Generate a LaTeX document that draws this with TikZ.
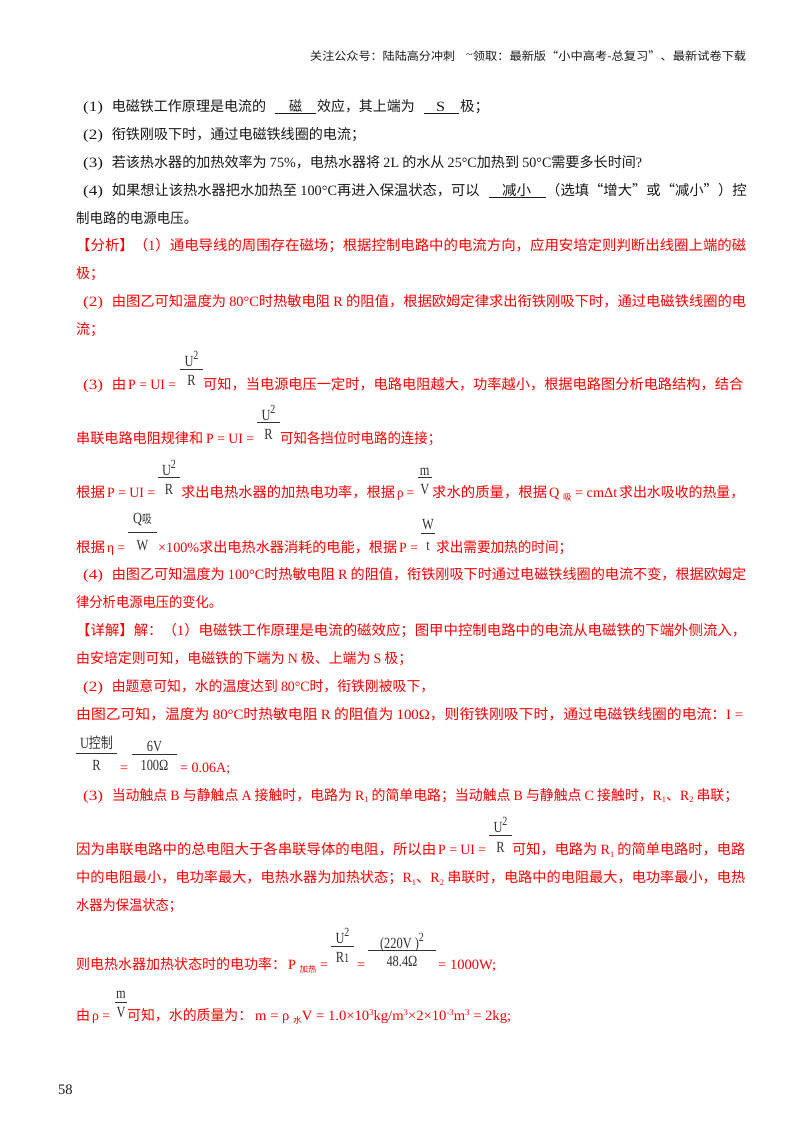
\documentclass[tikz,border=0pt]{standalone}
\usepackage{fontspec}
\usepackage{graphicx}
\setmainfont{Noto Sans CJK SC}
\newfontfamily\serif{Liberation Serif}
\newcommand\tn[1]{{\serif #1}}
\newcommand\sps[1]{\raisebox{0.38em}{\fontsize{8.5}{9}\selectfont\serif #1}}
\newcommand\fsp[1]{\raisebox{0.42em}{\fontsize{12.5}{14}\selectfont\serif #1}}
\newcommand\sbs[1]{\raisebox{-0.2em}{\fontsize{8.5}{9}\selectfont #1}}
\newcommand\fit[4]{\node[txt] at (#1,#3) {\resizebox{\dimexpr #2pt-#1pt\relax}{\height}{#4}};}
\newcommand\lbl[2]{\node[txt] at (83,#2) {\resizebox{20pt}{\height}{\tn{(#1)}}};}
\newcommand\frc[7]{% x1 x2 ybar ynum yden num den
  \draw[barln] (#1,#3) -- (#2,#3);
  \node[fractxt] at ({(#1+#2)/2},#4) {\scalebox{.8}[1]{#6}};
  \node[fractxt] at ({(#1+#2)/2},#5) {\scalebox{.8}[1]{#7}};}
\definecolor{pagered}{RGB}{255,0,0}
\definecolor{ink}{RGB}{25,25,25}
\definecolor{fracink}{RGB}{50,50,50}
\tikzset{
  txt/.style={anchor=base west,inner sep=0pt,font=\fontsize{14.2}{17}\selectfont},
  fractxt/.style={anchor=base,inner sep=0pt,text=fracink,font=\fontsize{15.5}{17}\serif},
  barln/.style={line width=0.8pt,color=fracink},
  ul/.style={line width=0.7pt}
}
\begin{document}
\begin{tikzpicture}[x=1pt,y=-1pt]
\fill[white] (0,0) rectangle (800,1132);
\useasboundingbox (0,0) rectangle (800,1132);
% header
\node[txt,text=ink,font=\fontsize{11.5}{14}\selectfont] at (310,60.5) {\resizebox{145pt}{\height}{关注公众号：陆陆高分冲刺}};
\node[txt,text=ink,font=\fontsize{11.5}{14}\selectfont] at (466,60.5) {\resizebox{280pt}{\height}{\raisebox{0.2em}{\tn{\symbol{"7E}}}领取：最新版“小中高考-总复习”、最新试卷下载}};
% questions
\begin{scope}[every node/.append style={text=ink},color=ink]
\lbl{1}{111}
\fit{111.6}{266}{111}{电磁铁工作原理是电流的}
\fit{289}{302}{111}{磁}
\draw[ul] (274.5,113) -- (316,113);
\fit{317}{414.5}{111}{效应，其上端为}
\fit{436}{445}{111}{\tn{S}}
\draw[ul] (423.5,113) -- (459,113);
\fit{460}{489}{111}{极；}
\lbl{2}{139.5}
\fit{111.6}{365}{139.5}{衔铁刚吸下时，通过电磁铁线圈的电流；}
\lbl{3}{167}
\fit{111.6}{642}{167}{若该热水器的加热效率为 \tn{75\%}，电热水器将 \tn{2L} 的水从 \tn{25°C}加热到 \tn{50°C}需要多长时间\tn{?}}
\lbl{4}{195.5}
\fit{111.6}{479.5}{195.5}{如果想让该热水器把水加热至 \tn{100°C}再进入保温状态，可以}
\fit{502}{531}{195.5}{减小}
\draw[ul] (488.5,197.5) -- (545.5,197.5);
\fit{546}{746.5}{195.5}{（选填“增大”或“减小”）控}
\fit{76}{197}{223.5}{制电路的电源电压。}
\end{scope}
% analysis
\begin{scope}[every node/.append style={text=pagered},color=pagered]
\fit{76}{746}{250.5}{【分析】（\tn{1}）通电导线的周围存在磁场；根据控制电路中的电流方向，应用安培定则判断出线圈上端的磁}
\fit{76}{104}{278.5}{极；}
\lbl{2}{306.5}
\fit{111.6}{746}{306.5}{由图乙可知温度为 \tn{80°C}时热敏电阻 \tn{R} 的阻值，根据欧姆定律求出衔铁刚吸下时，通过电磁铁线圈的电}
\fit{76}{104}{334.5}{流；}
% (3) U^2/R
\lbl{3}{389}
\fit{111.6}{126}{389}{由}
\fit{128}{176}{389}{\tn{P = UI =}}
\frc{180}{203}{369}{366}{385}{U\fsp{2}}{R}
\fit{203}{743}{389}{可知，当电源电压一定时，电路电阻越大，功率越小，根据电路图分析电路结构，结合}
\fit{76}{203}{443}{串联电路电阻规律和}
\fit{206}{254}{443}{\tn{P = UI =}}
\frc{257}{280}{422.7}{420}{439}{U\fsp{2}}{R}
\fit{280}{441}{443}{可知各挡位时电路的连接；}
\fit{76}{105}{497.5}{根据}
\fit{107}{155}{497.5}{\tn{P = UI =}}
\frc{158}{180}{477}{475}{494}{U\fsp{2}}{R}
\fit{181}{395}{497.5}{求出电热水器的加热电功率，根据}
\fit{397}{414}{497.5}{\tn{ρ =}}
\frc{418}{431.5}{477.7}{475}{494}{m}{V}
\fit{432}{547}{497.5}{求水的质量，根据}
\fit{549}{617}{497.5}{\tn{Q }\sbs{吸}\tn{ = cmΔt}}
\fit{619}{744}{497.5}{求出水吸收的热量，}
\fit{76}{105}{552}{根据}
\fit{107}{125}{552}{\tn{η =}}
\frc{128}{157}{532.7}{523}{550}{Q{\fontsize{12}{14}\selectfont\rmfamily 吸}}{W}
\fit{158}{199}{552}{\tn{×100\%}}
\fit{199}{397}{552}{求出电热水器消耗的电能，根据}
\fit{399}{418}{552}{\tn{P =}}
\frc{421}{435}{533}{529}{550}{W}{t}
\fit{436}{572}{552}{求出需要加热的时间；}
\lbl{4}{579.5}
\fit{111.6}{746}{579.5}{由图乙可知温度为 \tn{100°C}时热敏电阻 \tn{R} 的阻值，衔铁刚吸下时通过电磁铁线圈的电流不变，根据欧姆定}
\fit{76}{222}{607.5}{律分析电源电压的变化。}
\fit{76}{746}{635.5}{【详解】解：（\tn{1}）电磁铁工作原理是电流的磁效应；图甲中控制电路中的电流从电磁铁的下端外侧流入，}
\fit{76}{412}{663.5}{由安培定则可知，电磁铁的下端为 \tn{N} 极、上端为 \tn{S} 极；}
\lbl{2}{691}
\fit{111.6}{434}{691}{由题意可知，水的温度达到 \tn{80°C}时，衔铁刚被吸下，}
\fit{76}{743}{719}{由图乙可知，温度为 \tn{80°C}时热敏电阻 \tn{R} 的阻值为 \tn{100Ω}，则衔铁刚吸下时，通过电磁铁线圈的电流：\tn{I =}}
\frc{76}{117}{753}{748}{770}{U{\fontsize{15}{17}\selectfont\rmfamily 控制}}{R}
\fit{120}{128}{772}{\tn{=}}
\frc{132}{177}{754}{751}{770}{6V}{100Ω}
\fit{180}{230}{772}{\tn{= 0.06A;}}
\lbl{3}{800}
\fit{111.6}{738}{800}{当动触点 \tn{B} 与静触点 \tn{A} 接触时，电路为 \tn{R}\sbs{\tn{1}} 的简单电路；当动触点 \tn{B} 与静触点 \tn{C} 接触时，\tn{R}\sbs{\tn{1}}、\tn{R}\sbs{\tn{2}} 串联；}
\fit{76}{436}{854.5}{因为串联电路中的总电阻大于各串联导体的电阻，所以由}
\fit{438}{486}{854.5}{\tn{P = UI =}}
\frc{489}{512}{835}{832}{852}{U\fsp{2}}{R}
\fit{512}{745}{854.5}{可知，电路为 \tn{R}\sbs{\tn{1}} 的简单电路时，电路}
\fit{76}{745}{882.5}{中的电阻最小，电功率最大，电热水器为加热状态；\tn{R}\sbs{\tn{1}}、\tn{R}\sbs{\tn{2}} 串联时，电路中的电阻最大，电功率最小，电热}
\fit{76}{182}{910.5}{水器为保温状态；}
\fit{76}{286}{969.5}{则电热水器加热状态时的电功率：}
\fit{288}{328}{969.5}{\tn{P }\sbs{加热}\tn{ =}}
\frc{331}{354}{946}{943}{962}{U\fsp{2}}{R{\fontsize{13}{14}\selectfont 1}}
\fit{357}{365}{969.5}{\tn{=}}
\frc{368}{436}{950}{948}{966}{(220V )\fsp{2}}{48.4Ω}
\fit{438}{496}{969.5}{\tn{= 1000W;}}
\fit{76}{90}{1020.5}{由}
\fit{92}{110}{1020.5}{\tn{ρ =}}
\frc{115}{127}{1002}{998}{1017}{m}{V}
\fit{127}{252}{1020.5}{可知，水的质量为：}
\fit{255}{511}{1020.5}{\tn{m = ρ }\sbs{水}\tn{V = 1.0×10}\sps{3}\tn{kg/m}\sps{3}\tn{×2×10}\sps{-3}\tn{m}\sps{3}\tn{ = 2kg;}}
\end{scope}
\node[txt,text=ink,font=\fontsize{14.5}{17}\serif] at (58,1094) {58};
\end{tikzpicture}
\end{document}
